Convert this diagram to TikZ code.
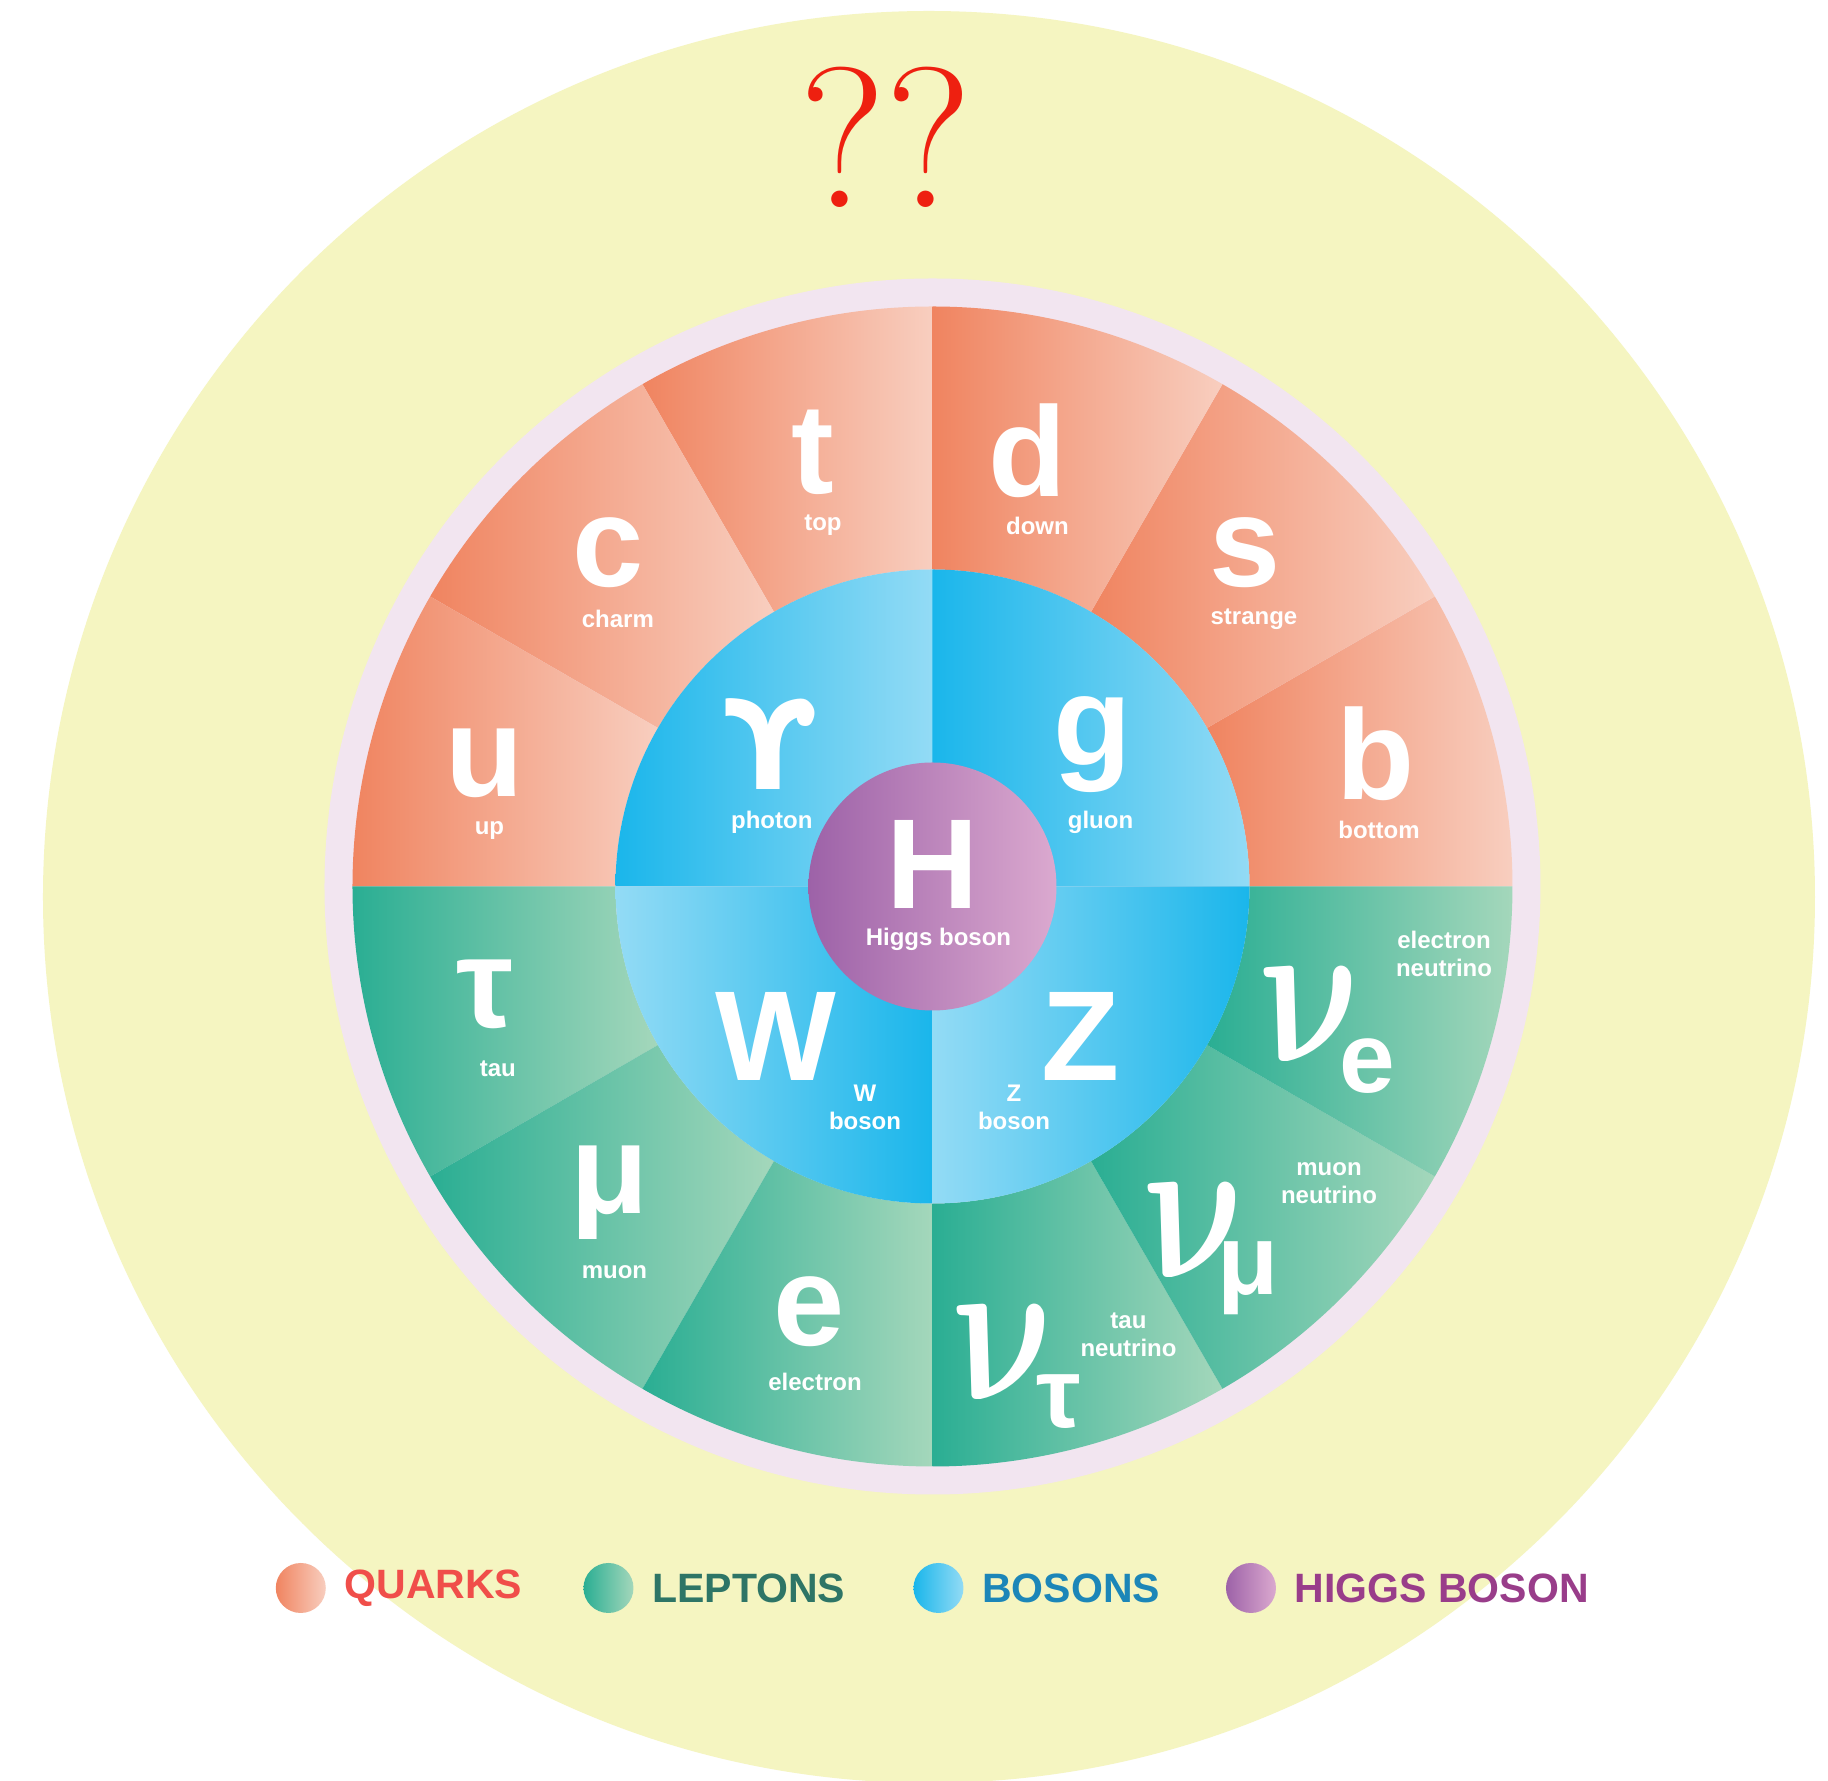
\documentclass[tikz,border=0pt]{standalone}
\usepackage{fix-cm}
\usepackage{fontspec}
\usetikzlibrary{positioning}
\newfontfamily\smsans{Liberation Sans}
\newfontfamily\smdejavu{DejaVu Sans}
\definecolor{smyellow}{HTML}{F5F5C1}
\definecolor{smring}{HTML}{F2E5F0}
\definecolor{quarkdk}{HTML}{F08460}
\definecolor{quarklt}{HTML}{F8CEBF}
\definecolor{leptdk}{HTML}{2AAE93}
\definecolor{leptlt}{HTML}{A4D7BB}
\definecolor{bosdk}{HTML}{1AB6EB}
\definecolor{boslt}{HTML}{93DBF5}
\definecolor{higgsdk}{HTML}{9D62A8}
\definecolor{higgslt}{HTML}{DBA9CF}
\definecolor{qmark}{HTML}{EE2010}
\definecolor{quarktxt}{HTML}{F04E4A}
\definecolor{lepttxt}{HTML}{2E7566}
\definecolor{bostxt}{HTML}{1C86B8}
\definecolor{higgstxt}{HTML}{993D8A}
\newcommand{\bigfont}{\smsans\bfseries\fontsize{64}{64}\selectfont}
\newcommand{\subfont}{\smsans\bfseries\fontsize{50}{50}\selectfont}
\newcommand{\nufont}{\fontsize{88}{88}\selectfont\boldmath}
\newcommand{\lblfont}{\smsans\bfseries\fontsize{12}{14}\selectfont}
\newcommand{\keyfont}{\smsans\bfseries\fontsize{20.5}{20.5}\selectfont}
\newcommand{\nuglyph}{$\nu$}
\tikzset{
  sym/.style={font=\bigfont, text=white, inner sep=0pt},
  nusym/.style={font=\nufont, text=white, inner sep=0pt, xslant=-0.22, xscale=0.92, yscale=1.2, transform shape},
  subsym/.style={font=\subfont, text=white, inner sep=0pt},
  lbl/.style={font=\lblfont, text=white, align=center, inner sep=0pt},
  key/.style={font=\keyfont, inner sep=0pt},
  keydot/.style={circle, minimum size=25pt, inner sep=0pt},
}

\begin{document}
\begin{tikzpicture}[x=0.5pt, y=0.5pt]
  \useasboundingbox[fill=white] (-932.5,-894.5) rectangle (895.5,886.5);
  \fill[smyellow] (-3.5,-10.5) circle[radius=886];
  \fill[smring] (0,0) circle[radius=608];
  % quark and lepton wedges
  \foreach \a [evaluate=\a as \b using \a+30] in {0,30,...,150}
    \shade[left color=quarkdk, right color=quarklt] (\a:317) -- (\a:580) arc[start angle=\a, end angle=\b, radius=580] -- (\b:317) arc[start angle=\b, end angle=\a, radius=317] -- cycle;
  \foreach \a [evaluate=\a as \b using \a+30] in {180,210,...,330}
    \shade[left color=leptdk, right color=leptlt] (\a:317) -- (\a:580) arc[start angle=\a, end angle=\b, radius=580] -- (\b:317) arc[start angle=\b, end angle=\a, radius=317] -- cycle;
  % bosons
  \shade[left color=bosdk, right color=boslt] (0,0) -- (0:317) arc[start angle=0, end angle=90, radius=317] -- cycle;
  \shade[left color=bosdk, right color=boslt] (0,0) -- (90:317) arc[start angle=90, end angle=180, radius=317] -- cycle;
  \shade[left color=boslt, right color=bosdk] (0,0) -- (180:317) arc[start angle=180, end angle=270, radius=317] -- cycle;
  \shade[left color=boslt, right color=bosdk] (0,0) -- (270:317) arc[start angle=270, end angle=360, radius=317] -- cycle;
  \shade[left color=higgsdk, right color=higgslt] (0,0) circle[radius=124];

  \node[font=\fontsize{100}{100}\selectfont, text=qmark, inner sep=0pt] (qq) at (-46.5,749) {??};

  % quarks
  \node[sym] (t) at (-120,434) {t};
  \node[lbl] (tl) at (-109.5,361) {top};
  \node[sym] (d) at (95.5,436) {d};
  \node[lbl] (dl) at (105,361) {down};
  \node[sym] (c) at (-324,334) {c};
  \node[lbl] (cl) at (-314.6,268) {charm};
  \node[sym] (s) at (312.5,334) {s};
  \node[lbl] (sl) at (321.5,267) {strange};
  \node[sym] (u) at (-447.5,123) {u};
  \node[lbl] (ul) at (-443,56) {up};
  \node[sym] (b) at (443,133) {b};
  \node[lbl] (bl) at (446.5,57) {bottom};

  % bosons
  \node[sym, font=\smdejavu\bfseries\fontsize{62}{62}\selectfont] (ph) at (-163,143) {ϒ};
  \node[lbl] (phl) at (-160.7,64) {photon};
  \node[sym] (g) at (160,142) {g};
  \node[lbl] (gl) at (168,64) {gluon};
  \node[sym] (H) at (0,22) {H};
  \node[lbl] (Hl) at (6,-53) {Higgs boson};
  \node[sym] (W) at (-157,-150) {W};
  \node[lbl] (Wl) at (-67.5,-221) {W\\boson};
  \node[sym] (Z) at (148,-150) {Z};
  \node[lbl] (Zl) at (81.5,-221) {Z\\boson};

  % leptons
  \node[sym] (tau) at (-447.5,-108) {τ};
  \node[lbl] (taul) at (-434.7,-182) {tau};
  \node[sym] (mu) at (-323,-306) {μ};
  \node[lbl] (mul) at (-318,-386) {muon};
  \node[sym] (e) at (-123.5,-425) {e};
  \node[lbl] (el) at (-117.5,-495) {electron};
  \node[nusym] (nue) at (382,-128) {\nuglyph};
  \node[subsym] (nues) at (435,-180) {e};
  \node[lbl] (nuel) at (511.5,-67) {electron\\neutrino};
  \node[nusym] (numu) at (266,-344) {\nuglyph};
  \node[subsym] (numus) at (316,-392) {μ};
  \node[lbl] (numul) at (396.5,-296.5) {muon\\neutrino};
  \node[nusym] (nutau) at (75,-466) {\nuglyph};
  \node[subsym] (nutaus) at (126,-515) {τ};
  \node[lbl] (nutaul) at (196,-448.5) {tau\\neutrino};

  % key
  \node[keydot, left color=quarkdk, right color=quarklt] (kq) at (-631.7,-701.5) {};
  \node[key, text=quarktxt, right=9pt of kq] (kqt) {QUARKS};
  \node[keydot, left color=leptdk, right color=leptlt] (kl) at (-324,-701.5) {};
  \node[key, text=lepttxt, right=9pt of kl] (klt) {LEPTONS};
  \node[keydot, left color=bosdk, right color=boslt] (kb) at (6,-701.5) {};
  \node[key, text=bostxt, right=9pt of kb] (kbt) {BOSONS};
  \node[keydot, left color=higgsdk, right color=higgslt] (kh) at (318.5,-701.5) {};
  \node[key, text=higgstxt, right=9pt of kh] (kht) {HIGGS BOSON};
\end{tikzpicture}
\end{document}
